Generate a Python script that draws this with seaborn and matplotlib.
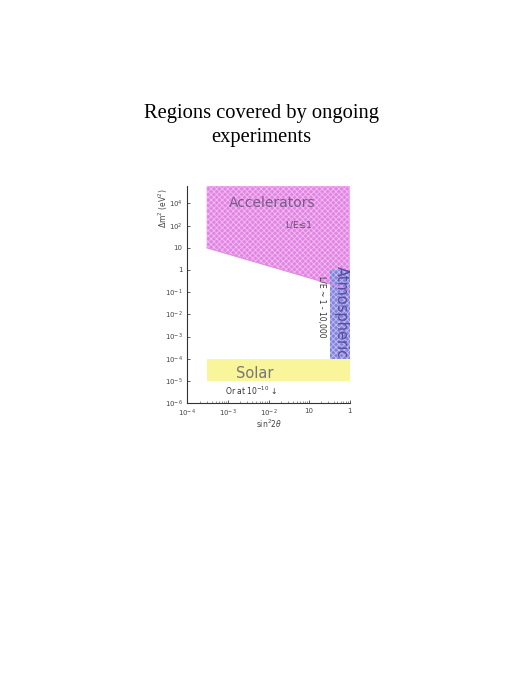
import matplotlib
matplotlib.use("Agg")
import matplotlib.pyplot as plt
import numpy as np
import pandas as pd
import seaborn as sns
from matplotlib.ticker import LogLocator, NullFormatter

# Region boundaries (sin^2 2theta, delta m^2 in eV^2)
accel_x = [3e-4, 1.0]
accel_low = [10.0, 0.13]
accel_high = [6e3, 6e3]

atmos_x = [0.33, 1.0]
atmos_low = [1e-4, 1e-4]
atmos_high = [1.0, 1.0]

solar_x = [3e-4, 1.0]
solar_low = [1e-5, 1e-5]
solar_high = [1e-4, 1e-4]

x_ticks = [1e-4, 1e-3, 1e-2, 1e-1, 1]
x_labels = [r"$10^{-4}$", r"$10^{-3}$", r"$10^{-2}$", "10", "1"]
y_ticks = [1e-6, 1e-5, 1e-4, 1e-3, 1e-2, 1e-1, 1, 10, 1e2, 1e3]
y_labels = [r"$10^{-6}$", r"$10^{-5}$", r"$10^{-4}$", r"$10^{-3}$", r"$10^{-2}$",
            r"$10^{-1}$", "1", "10", r"$10^{2}$", r"$10^{4}$"]

sns.set_theme(style="ticks")
plt.rcParams["font.family"] = ["DejaVu Sans"]
plt.rcParams["hatch.linewidth"] = 0.6

fig = plt.figure(figsize=(5.12, 6.82), dpi=100)
fig.text(0.51, 0.816, "Regions covered by ongoing\nexperiments", ha="center", va="center",
         fontsize=14.8, family="Liberation Serif", linespacing=1.3, color="black")

ax = fig.add_axes([0.366, 0.409, 0.317, 0.318])
ax.set_xscale("log")
ax.set_yscale("log")

accel = pd.DataFrame({"x": accel_x, "y": accel_low})
sns.lineplot(data=accel, x="x", y="y", ax=ax, color="#e28ae3", linewidth=0.8)
ax.fill_between(accel_x, accel_low, accel_high, facecolor="#e184e2",
                edgecolor="#f3bdf3", hatch="xxxxxx", linewidth=0)
ax.fill_between(atmos_x, atmos_low, atmos_high, facecolor="#8484dc",
                edgecolor="#bfbff2", hatch="xxxxxx", linewidth=0)
ax.fill_between(solar_x, solar_low, solar_high, facecolor="#f8f59a", linewidth=0)

ax.text(1.2e-2, 1.1e3, "Accelerators", ha="center", va="center", fontsize=10, color="#7a5a86")
ax.text(5.4e-2, 1.1e2, "L/E≤1", ha="center", va="center", fontsize=6.5, color="#6a5070")
ax.text(0.64, 1.2e-2, "Atmospheric", ha="center", va="center", rotation=-90,
        fontsize=10.5, color="#5a4aa0")
ax.text(0.2, 2.3e-2, "L/E ~ 1 - 10,000", ha="center", va="center", rotation=-90,
        fontsize=5.5, color="#333333")
ax.text(4.7e-3, 2.1e-5, "Solar", ha="center", va="center", fontsize=10.5, color="#777777")
ax.text(3.7e-3, 3.5e-6, r"Or at $10^{-10}$ ↓", ha="center", va="center", fontsize=5.5,
        color="#333333")

ax.set_xlim(1e-4, 1)
ax.set_ylim(1e-6, 6e3)
ax.set_xticks(x_ticks)
ax.set_xticklabels(x_labels)
ax.set_yticks(y_ticks)
ax.set_yticklabels(y_labels)
ax.xaxis.set_minor_locator(LogLocator(base=10, subs=np.arange(2, 10) * 1.0))
ax.xaxis.set_minor_formatter(NullFormatter())
ax.yaxis.set_minor_locator(plt.NullLocator())
ax.tick_params(axis="both", which="major", labelsize=5, colors="#444444",
               direction="in", length=2.5, width=0.6)
ax.tick_params(axis="x", which="minor", colors="#444444", direction="in",
               length=1.3, width=0.4)
ax.set_xlabel(r"sin$^2$2$\theta$", fontsize=5.5, color="#444444", labelpad=-1)
ax.set_ylabel(r"$\Delta$m$^2$ (eV$^2$)", fontsize=5.5, color="#444444", labelpad=1)
ax.yaxis.set_label_coords(-0.11, 0.9)
for side in ["top", "right"]:
    ax.spines[side].set_visible(False)
for side in ["left", "bottom"]:
    ax.spines[side].set_linewidth(0.8)
    ax.spines[side].set_color("#333333")

fig.savefig("out.png", dpi=100)
